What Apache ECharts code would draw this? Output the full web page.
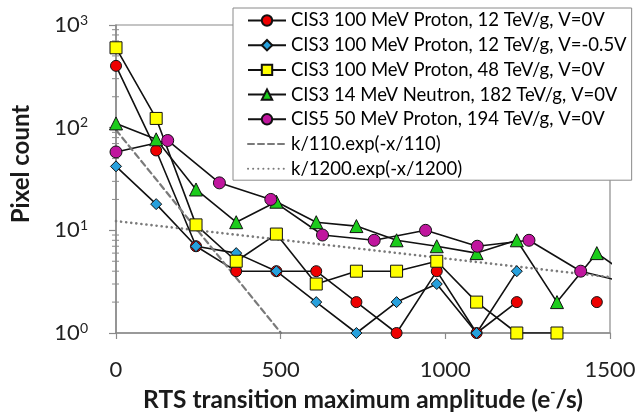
<!DOCTYPE html>
<html>
<head>
<meta charset="utf-8">
<script src="https://cdn.jsdelivr.net/npm/echarts@6/dist/echarts.min.js"></script>
<style>
  html, body { margin: 0; padding: 0; background: #fff; }
  #chart { width: 637px; height: 412px; }
</style>
</head>
<body>
<div id="chart"></div>
<script>
// RTS amplitude histograms (pixel counts per amplitude bin)
const seriesNames = [
  'CIS3 100 MeV Proton, 12 TeV/g, V=0V',
  'CIS3 100 MeV Proton, 12 TeV/g, V=-0.5V',
  'CIS3 100 MeV Proton, 48 TeV/g, V=0V',
  'CIS3 14 MeV Neutron, 182 TeV/g, V=0V',
  'CIS5 50 MeV Proton, 194 TeV/g, V=0V',
  'k/110.exp(-x/110)',
  'k/1200.exp(-x/1200)'
];

// amplitude bins (e-/s) for the CIS3 data sets
const binsCIS3 = [0, 122, 243, 365, 487, 608, 730, 852, 974, 1095, 1217, 1339, 1460, 1582];
// amplitude bins (e-/s) for the CIS5 data set
const binsCIS5 = [0, 157, 314, 470, 627, 784, 940, 1097, 1254, 1411, 1568];

const redCounts    = [400, 60, 7, 4, 4, 4, 2, 1, 4, 1, 2, null, 2];
const blueCounts   = [42, 18, 7, 6, 4, 2, 1, 2, 3, 1, 4];
const yellowCounts = [600, 123, 11.3, 5, 9.2, 3, 4, 4, 5, 2, 1, 1];
const greenCounts  = [110, 77, 25, 12, 19, 12, 11, 8, 7, 6, 8, 2, 6, 3.2];
const purpleCounts = [58, 75, 29, 20, 9, 8, 10, 7, 8, 4, 3];

// exponential models: end points of each straight line on the log axis
const fit110X  = [0, 501];
const fit110Y  = [95, 1];
const fit1200X = [0, 1500];
const fit1200Y = [12.3, 3.5];

// axis ticks
const xTicks = [0, 500, 1000, 1500];
const yDecades = [1, 10, 100, 1000];
const yMinorTicks = [2, 3, 4, 5, 6, 7, 8, 9, 20, 30, 40, 50, 60, 70, 80, 90, 200, 300, 400, 500, 600, 700, 800, 900];

const FONT = 'Lato';
const AXIS_GREY = '#8a8a8a';
const FIT_GREY = '#7a7a7a';

function pairs(xs, ys) {
  return ys.map((v, i) => [xs[i], v == null ? '-' : v]);
}

function dataSeries(name, xs, ys, symbol, size, color) {
  return {
    name: name,
    type: 'line',
    data: pairs(xs, ys),
    symbol: symbol,
    symbolSize: size,
    connectNulls: false,
    clip: true,
    lineStyle: { color: '#111', width: 1.6 },
    itemStyle: { color: color, borderColor: '#111', borderWidth: 1 },
    emphasis: { disabled: true }
  };
}

function fitSeries(name, xs, ys, width, dash) {
  return {
    name: name, type: 'line', data: pairs(xs, ys),
    symbol: 'none', clip: true,
    lineStyle: { color: FIT_GREY, width: width, type: dash, cap: 'round' },
    itemStyle: { color: 'rgba(0,0,0,0)', borderWidth: 0 },
    emphasis: { disabled: true }
  };
}

const chart = echarts.init(document.getElementById('chart'), null, { renderer: 'canvas' });

const option = {
  animation: false,
  backgroundColor: '#fff',
  textStyle: { fontFamily: FONT },
  grid: {
    left: 116, right: 27, top: 25, bottom: 79,
    outerBoundsMode: 'none',
    containLabel: false,
    show: true, borderColor: AXIS_GREY, borderWidth: 1.2, backgroundColor: 'transparent'
  },
  legend: {
    orient: 'vertical',
    left: 233, top: 8,
    backgroundColor: '#fff',
    borderColor: '#8a8a8a', borderWidth: 1,
    padding: [3, 5, 2, 14],
    itemWidth: 38, itemHeight: 13, itemGap: 5.7,
    textStyle: { fontFamily: FONT, fontSize: 18.5, lineHeight: 17, color: '#000' },
    data: seriesNames
  },
  xAxis: {
    type: 'value',
    min: 0, max: 1500, interval: 500,
    name: 'RTS transition maximum amplitude (e{s|-}/s)',
    nameLocation: 'middle',
    nameGap: 51,
    nameTextStyle: {
      fontFamily: FONT, fontSize: 24.5, fontWeight: 'bold', color: '#1a1a1a',
      rich: { s: { fontFamily: FONT, fontSize: 14, fontWeight: 'bold', color: '#1a1a1a', padding: [0, 0, 14, 0] } }
    },
    axisLine: { show: true, lineStyle: { color: AXIS_GREY, width: 1.5 } },
    axisTick: { show: true, length: 6, lineStyle: { color: AXIS_GREY, width: 1.2 } },
    axisLabel: {
      margin: 26, fontFamily: FONT, fontSize: 22, color: '#222',
      formatter: v => xTicks.indexOf(v) >= 0 ? String(v) : ''
    },
    splitLine: { show: false }
  },
  yAxis: {
    type: 'log',
    logBase: 10,
    min: 1, max: 1000,
    name: 'Pixel count',
    nameLocation: 'middle',
    nameGap: 83,
    nameRotate: 90,
    nameTextStyle: {
      fontFamily: FONT, fontSize: 24, fontWeight: 'bold', color: '#1a1a1a',
      padding: [0, 0, 0, 30]
    },
    axisLine: { show: true, lineStyle: { color: AXIS_GREY, width: 1.5 } },
    axisTick: { show: true, length: 7, lineStyle: { color: AXIS_GREY, width: 1.2 } },
    axisLabel: {
      margin: 28, fontFamily: FONT, fontSize: 22, color: '#222',
      formatter: v => {
        const e = yDecades.indexOf(Math.round(v));
        return e >= 0 ? '10{sup|' + e + '}' : '';
      },
      rich: {
        sup: { fontFamily: FONT, fontSize: 14, color: '#222', padding: [0, 0, 10, 0] }
      }
    },
    splitLine: { show: false }
  },
  series: [
    dataSeries(seriesNames[0], binsCIS3, redCounts, 'circle', 11, '#ee0000'),
    dataSeries(seriesNames[1], binsCIS3, blueCounts, 'diamond', 11, '#27a0dc'),
    dataSeries(seriesNames[2], binsCIS3, yellowCounts, 'rect', 12, '#ffff00'),
    dataSeries(seriesNames[3], binsCIS3, greenCounts, 'triangle', 13, '#1ccc1c'),
    dataSeries(seriesNames[4], binsCIS5, purpleCounts, 'circle', 12, '#c0169e'),
    fitSeries(seriesNames[5], fit110X, fit110Y, 2.2, [6, 4]),
    fitSeries(seriesNames[6], fit1200X, fit1200Y, 2.6, [0.1, 5]),
    {
      // logarithmic minor ticks on the y axis
      type: 'custom',
      silent: true,
      clip: false,
      data: yMinorTicks.map(v => [0, v]),
      renderItem: (params, api) => {
        const p = api.coord([0, api.value(1)]);
        return {
          type: 'line',
          shape: { x1: p[0] - 4, y1: p[1], x2: p[0] + 3, y2: p[1] },
          style: { stroke: AXIS_GREY, lineWidth: 1 }
        };
      }
    }
  ]
};

chart.setOption(option);
</script>
</body>
</html>
